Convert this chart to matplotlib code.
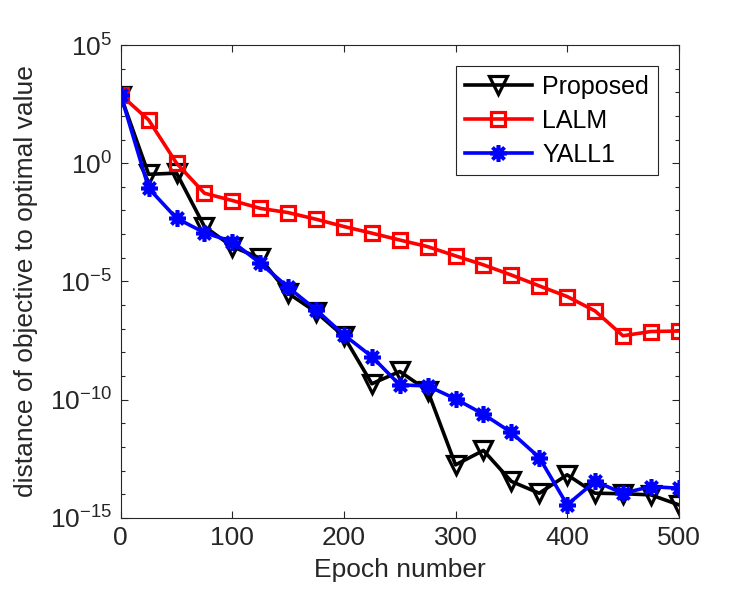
import numpy as np
import matplotlib
matplotlib.use("Agg")
import matplotlib.pyplot as plt
from matplotlib.ticker import FixedLocator, FuncFormatter

plt.rcParams["font.family"] = ["Liberation Sans", "DejaVu Sans"]
plt.rcParams["mathtext.default"] = "regular"

# epochs (every 25)
epochs = np.arange(0, 501, 25)

# log10 of distance to optimal value
proposed_log = [2.85, -0.47, -0.42, -2.68, -3.53, -4.02, -5.5, -6.3, -7.33, -9.33, -8.81,
                -9.62, -12.76, -12.15, -13.46, -13.96, -13.18, -13.96, -13.98, -14.03, -14.45]
lalm_log = [2.89, 1.83, 0.0, -1.27, -1.58, -1.91, -2.09, -2.37, -2.68, -2.96, -3.25,
            -3.53, -3.92, -4.30, -4.73, -5.19, -5.64, -6.25, -7.30, -7.12, -7.10]
yall1_log = [2.89, -1.06, -2.33, -2.94, -3.32, -4.23, -5.25, -6.2, -7.26, -8.18, -9.38,
             -9.42, -9.97, -10.62, -11.39, -12.45, -14.45, -13.46, -13.96, -13.68, -13.75]

proposed = 10.0 ** np.array(proposed_log)
lalm = 10.0 ** np.array(lalm_log)
yall1 = 10.0 ** np.array(yall1_log)

fig = plt.figure(figsize=(7.5, 6), dpi=100)
ax = fig.add_axes([0.161, 0.137, 0.744, 0.788])

ax.plot(epochs, proposed, color="black", lw=2.6, marker="v", ms=12.5,
        mfc="none", mec="black", mew=2.3, label="Proposed")
ax.plot(epochs, lalm, color="red", lw=2.6, marker="s", ms=10,
        mfc="none", mec="red", mew=2.3, label="LALM")
ax.plot(epochs, yall1, color="blue", lw=2.6, marker=(8, 2, 0), ms=12,
        mec="blue", mew=2.6, label="YALL1")

ax.set_yscale("log")
ax.set_xlim(0, 500)
ax.set_ylim(1e-15, 1e5)

ax.xaxis.set_major_locator(FixedLocator([0, 100, 200, 300, 400, 500]))
ax.yaxis.set_major_locator(FixedLocator([1e-15, 1e-10, 1e-5, 1e0, 1e5]))
ax.yaxis.set_minor_locator(FixedLocator([10.0 ** k for k in range(-15, 6)]))
ax.yaxis.set_major_formatter(FuncFormatter(lambda v, p: "$10^{%d}$" % round(np.log10(v))))
ax.yaxis.set_minor_formatter(FuncFormatter(lambda v, p: ""))

grey = "#262626"
for s in ax.spines.values():
    s.set_color(grey)
    s.set_linewidth(0.8)
ax.tick_params(which="both", direction="in", top=True, right=True, colors=grey,
               labelsize=19, labelcolor=grey)
ax.tick_params(which="major", length=5, width=0.8, pad=6)
ax.tick_params(which="minor", length=3, width=0.8)

ax.set_xlabel("Epoch number", fontsize=19, color=grey, labelpad=6)
ax.set_ylabel("distance of objective to optimal value", fontsize=19, color=grey, labelpad=9)

leg = ax.legend(loc="upper right", bbox_to_anchor=(0.962, 0.956), borderaxespad=0,
                fontsize=18, handlelength=2.7, handletextpad=0.4, labelspacing=0.4,
                fancybox=False, framealpha=1, edgecolor=grey, borderpad=0.35)
leg.get_frame().set_linewidth(0.8)

fig.savefig("out.png", dpi=100)
